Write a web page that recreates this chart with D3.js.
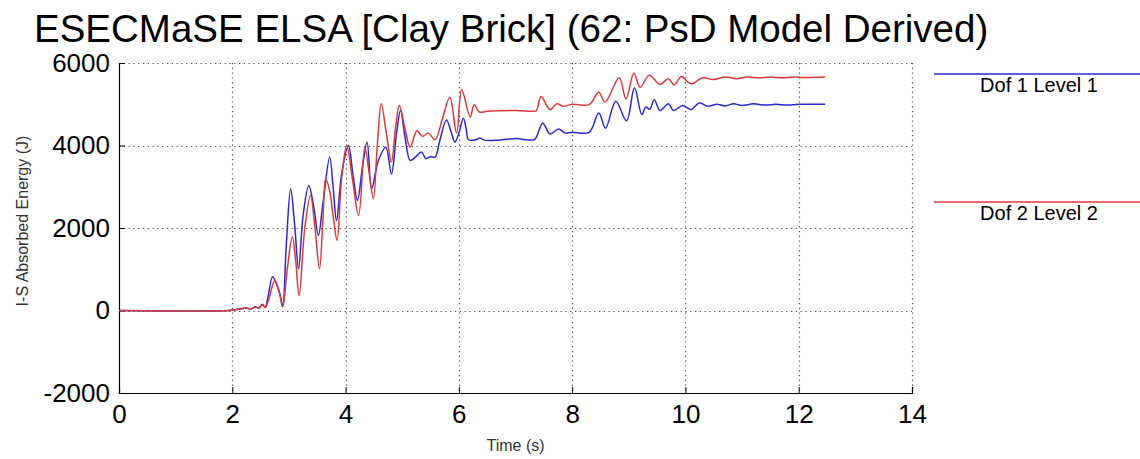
<!DOCTYPE html>
<html>
<head>
<meta charset="utf-8">
<script src="https://cdn.jsdelivr.net/npm/d3@7/dist/d3.min.js"></script>
<style>
  html, body { margin: 0; padding: 0; background: #fff; }
  svg { display: block; font-family: "Liberation Sans", Arial, sans-serif; }
</style>
</head>
<body>
<svg id="chart" width="1140" height="459"></svg>
<script>
// Time samples (s) and absorbed energy (J) for each degree of freedom
const dof1Time = [0, 1.95, 2.05, 2.15, 2.25, 2.32, 2.4, 2.47, 2.53, 2.58, 2.63, 2.71, 2.78, 2.84, 2.89, 2.95, 3.03, 3.1, 3.17, 3.25, 3.35, 3.44, 3.52, 3.6, 3.72, 3.78, 3.84, 3.93, 4.05, 4.13, 4.21, 4.3, 4.38, 4.46, 4.58, 4.71, 4.81, 4.9, 4.97, 5.05, 5.14, 5.22, 5.34, 5.42, 5.5, 5.58, 5.66, 5.78, 5.86, 5.93, 6.0, 6.08, 6.13, 6.17, 6.3, 6.37, 6.45, 6.7, 7.03, 7.2, 7.34, 7.48, 7.61, 7.76, 7.88, 8.0, 8.3, 8.47, 8.59, 8.77, 8.96, 9.1, 9.23, 9.3, 9.37, 9.45, 9.55, 9.7, 9.79, 9.95, 10.05, 10.1, 10.25, 10.4, 10.55, 10.7, 10.85, 11.0, 11.2, 11.4, 11.6, 11.8, 12.0, 12.2, 12.47];
const dof1Energy = [0, 0, 20, 40, 60, 30, 90, 60, 150, 80, 320, 820, 650, 400, 120, 1500, 2950, 2100, 1010, 2300, 3030, 2500, 1820, 2600, 3715, 3000, 2180, 3300, 4000, 3300, 2670, 3500, 4080, 2950, 3640, 3960, 3310, 4300, 4850, 4200, 3640, 3700, 3840, 3680, 3730, 3720, 4100, 4620, 4350, 4080, 4300, 4660, 4400, 4140, 4140, 4180, 4130, 4130, 4170, 4140, 4150, 4540, 4280, 4400, 4300, 4320, 4320, 4790, 4420, 5070, 4600, 5400, 4750, 4930, 4880, 5110, 4850, 5010, 4850, 4970, 4900, 4870, 5030, 4950, 5000, 4960, 5010, 4970, 5010, 4980, 5000, 4980, 5000, 5000, 5000];

const dof2Time = [0, 1.95, 2.05, 2.15, 2.25, 2.32, 2.4, 2.47, 2.53, 2.58, 2.64, 2.75, 2.82, 2.89, 2.97, 3.06, 3.12, 3.18, 3.28, 3.38, 3.46, 3.54, 3.6, 3.65, 3.72, 3.78, 3.85, 3.93, 4.02, 4.12, 4.23, 4.34, 4.41, 4.49, 4.56, 4.63, 4.72, 4.81, 4.88, 4.95, 5.05, 5.14, 5.26, 5.36, 5.46, 5.58, 5.7, 5.84, 5.96, 6.05, 6.2, 6.27, 6.36, 6.5, 7.0, 7.3, 7.37, 7.45, 7.61, 7.73, 7.85, 8.0, 8.3, 8.47, 8.58, 8.83, 8.95, 9.09, 9.2, 9.36, 9.55, 9.7, 9.8, 9.93, 10.05, 10.12, 10.3, 10.5, 10.7, 10.9, 11.1, 11.3, 11.5, 11.7, 11.9, 12.1, 12.47];
const dof2Energy = [0, 0, 20, 40, 60, 30, 80, 60, 140, 70, 250, 730, 500, 80, 1000, 1790, 1200, 360, 2000, 2790, 2000, 1010, 2200, 3190, 2900, 2300, 1700, 3200, 4000, 3200, 2300, 3960, 3400, 2710, 4000, 5010, 4300, 3600, 4400, 4970, 4400, 3960, 4360, 4220, 4300, 4140, 4600, 5170, 4300, 5360, 4690, 4990, 4810, 4830, 4850, 4830, 4850, 5190, 4870, 5010, 4950, 5000, 4990, 5290, 5050, 5640, 5130, 5760, 5410, 5700, 5480, 5620, 5470, 5670, 5530, 5500, 5640, 5600, 5660, 5620, 5660, 5640, 5660, 5640, 5660, 5650, 5660];

const seriesNames = ["Dof 1 Level 1", "Dof 2 Level 2"];
const seriesColors = ["#2a2ad0", "#dc3a3a"];
const xTicks = [0, 2, 4, 6, 8, 10, 12, 14];
const yTicks = [-2000, 0, 2000, 4000, 6000];

const titleText = "ESECMaSE ELSA [Clay Brick] (62: PsD Model Derived)";
const xLabel = "Time (s)";
const yLabel = "I-S Absorbed Energy (J)";

const svg = d3.select("#chart");
const plot = { left: 119, right: 912, top: 63, bottom: 393 };

const x = d3.scaleLinear().domain([0, 14]).range([plot.left, plot.right]);
const y = d3.scaleLinear().domain([-2000, 6000]).range([plot.bottom, plot.top]);

// Title
svg.append("text")
  .attr("x", 34).attr("y", 42)
  .attr("font-size", 38.5)
  .attr("fill", "#000")
  .text(titleText);

// Dotted grid
const grid = svg.append("g").attr("stroke", "#444").attr("stroke-width", 1.2).attr("stroke-dasharray", "1.2,3.6");
grid.selectAll("line.gx").data(xTicks.filter(d => d > 0)).join("line")
  .attr("x1", d => Math.round(x(d)) + 0.5).attr("x2", d => Math.round(x(d)) + 0.5)
  .attr("y1", plot.top).attr("y2", plot.bottom);
grid.selectAll("line.gy").data(yTicks.filter(d => d > -2000)).join("line")
  .attr("x1", plot.left).attr("x2", plot.right)
  .attr("y1", d => Math.round(y(d)) + 0.5).attr("y2", d => Math.round(y(d)) + 0.5);

// Axes (ticks pointing inward, plain hyphen for negatives)
const fmt = d => String(d);
const xAxis = svg.append("g")
  .attr("transform", `translate(0,${plot.bottom})`)
  .call(d3.axisBottom(x).tickValues(xTicks).tickSize(-6).tickPadding(12).tickFormat(fmt));
const yAxis = svg.append("g")
  .attr("transform", `translate(${plot.left},0)`)
  .call(d3.axisLeft(y).tickValues(yTicks).tickSize(-6).tickPadding(9).tickFormat(fmt));

[xAxis, yAxis].forEach(g => {
  g.select(".domain").attr("stroke", "#000").attr("stroke-width", 1.2);
  g.selectAll(".tick line").attr("stroke", "#000");
  g.selectAll(".tick text")
    .attr("font-family", "'Liberation Sans', Arial, sans-serif")
    .attr("font-size", 26).attr("fill", "#000");
});
xAxis.selectAll(".tick text").attr("dy", "0.71em");

// Axis labels
svg.append("text")
  .attr("x", (plot.left + plot.right) / 2).attr("y", 451)
  .attr("text-anchor", "middle").attr("font-size", 16).attr("fill", "#333")
  .text(xLabel);
svg.append("text")
  .attr("transform", `translate(28,${(plot.top + plot.bottom) / 2 - 7}) rotate(-90)`)
  .attr("text-anchor", "middle").attr("font-size", 16).attr("fill", "#333")
  .text(yLabel);

// Series lines
const line = d3.line()
  .x(d => x(d[0])).y(d => y(d[1]))
  .curve(d3.curveCatmullRom.alpha(0.5));

const series = [
  d3.zip(dof1Time, dof1Energy),
  d3.zip(dof2Time, dof2Energy)
];

svg.append("g").selectAll("path").data(series).join("path")
  .attr("fill", "none")
  .attr("stroke", (d, i) => seriesColors[i])
  .attr("stroke-width", 1.5)
  .attr("stroke-linejoin", "round")
  .attr("d", line);

// Legend
const legendY = [74, 202];
const legend = svg.append("g").selectAll("g").data(seriesNames).join("g");
legend.append("line")
  .attr("x1", 934).attr("x2", 1140)
  .attr("y1", (d, i) => legendY[i]).attr("y2", (d, i) => legendY[i])
  .attr("stroke", (d, i) => seriesColors[i]).attr("stroke-width", 1.6);
legend.append("text")
  .attr("x", 1039).attr("y", (d, i) => legendY[i] + 18)
  .attr("text-anchor", "middle").attr("font-size", 20).attr("fill", "#000")
  .text(d => d);
</script>
</body>
</html>
